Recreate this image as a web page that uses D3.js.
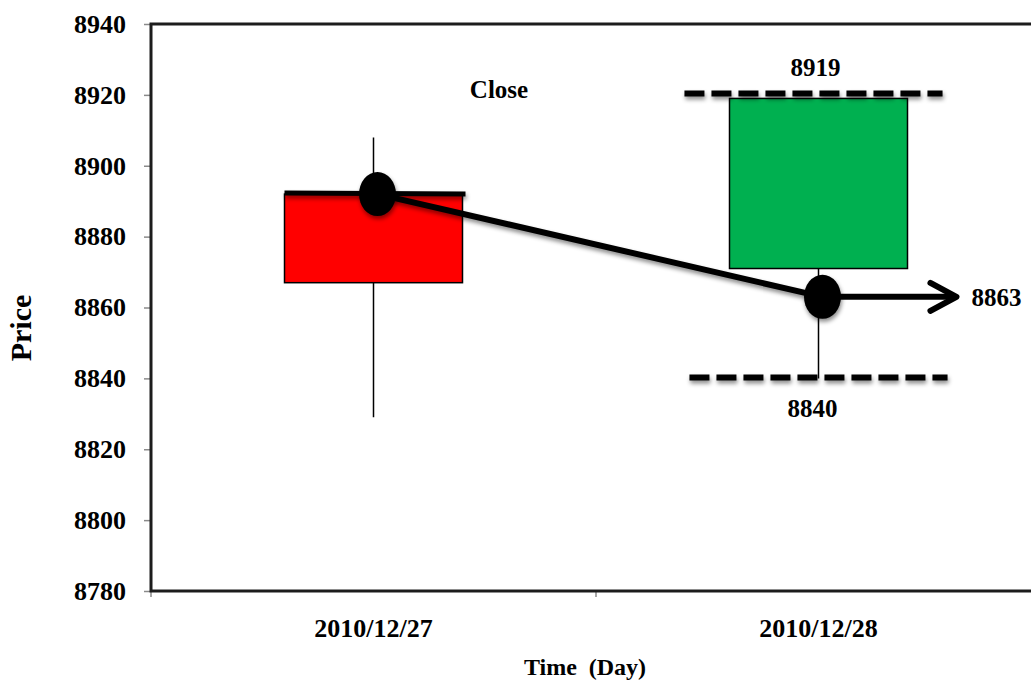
<!DOCTYPE html>
<html>
<head>
<meta charset="utf-8">
<script src="https://cdn.jsdelivr.net/npm/d3@7"></script>
<style>
  html, body { margin: 0; padding: 0; background: #fff; }
  svg { display: block; }
  text { font-family: "Liberation Serif", "Times New Roman", serif; font-weight: bold; fill: #000; }
</style>
</head>
<body>
<svg id="chart" width="1031" height="684"></svg>
<script>
// Two daily candles and the close-to-close move between them
const categories = ["2010/12/27", "2010/12/28"];
const openVals  = [8892, 8871];
const closeVals = [8867, 8919];
const highVals  = [8908, 8919];
const lowVals   = [8829, 8840];
const closeMarks = [8892, 8863];          // "Close" points joined by the line
const rangeHigh = 8919;                   // dashed upper level on day 2
const rangeLow  = 8840;                   // dashed lower level on day 2
const yTicks = [8780, 8800, 8820, 8840, 8860, 8880, 8900, 8920, 8940];

const W = 1031, H = 684;
const plot = { left: 151, top: 24, bottom: 591, right: 1041 };
const FONT = 26;
const SERIF = '"Liberation Serif", "Times New Roman", serif';

const svg = d3.select("#chart");

// soft drop shadow, in user space so thin horizontal lines keep it
const defs = svg.append("defs");
const shadow = defs.append("filter").attr("id", "shade")
  .attr("filterUnits", "userSpaceOnUse")
  .attr("x", 0).attr("y", 0).attr("width", W).attr("height", H);
shadow.append("feDropShadow")
  .attr("dx", 1).attr("dy", 3).attr("stdDeviation", 2)
  .attr("flood-color", "#000").attr("flood-opacity", 0.45);

const x = d3.scaleBand().domain(categories).range([plot.left, plot.right]).padding(0);
const y = d3.scaleLinear().domain([8780, 8940]).range([plot.bottom, plot.top]);
const bw = x.bandwidth();
const cx = c => x(c) + bw / 2;

// y axis ticks and labels
const yAxis = svg.append("g")
  .attr("transform", `translate(${plot.left},0)`)
  .call(d3.axisLeft(y).tickValues(yTicks).tickSize(7).tickPadding(18).tickFormat(d3.format("d")))
  .attr("font-family", SERIF).attr("font-size", FONT);
yAxis.select(".domain").remove();
yAxis.selectAll(".tick line").attr("stroke", "#8a8a8a").attr("stroke-width", 1.5);
yAxis.selectAll(".tick text").attr("fill", "#000");

// x axis labels, ticks at band edges
const xAxis = svg.append("g")
  .attr("transform", `translate(0,${plot.bottom})`)
  .call(d3.axisBottom(x).tickSize(0).tickPadding(28))
  .attr("font-family", SERIF).attr("font-size", FONT);
xAxis.select(".domain").remove();
xAxis.selectAll(".tick text").attr("fill", "#000");
const edges = [x(categories[0]), x(categories[1]), x(categories[1]) + bw];
svg.append("g").selectAll("line").data(edges).join("line")
  .attr("x1", d => d).attr("x2", d => d)
  .attr("y1", plot.bottom).attr("y2", plot.bottom + 6)
  .attr("stroke", "#8a8a8a").attr("stroke-width", 1.5);

// frame: top, left and bottom borders
svg.append("path")
  .attr("d", `M${W + 10},${plot.top}H${plot.left}V${plot.bottom}H${W + 10}`)
  .attr("fill", "none").attr("stroke", "#1c1c1c").attr("stroke-width", 3);

// axis titles
svg.append("text")
  .attr("transform", `translate(31,328) rotate(-90)`)
  .attr("text-anchor", "middle").attr("font-size", 30).text("Price");
svg.append("text")
  .attr("x", 585).attr("y", 675).attr("text-anchor", "middle")
  .attr("font-size", 24).style("white-space", "pre").text("Time  (Day)");

// candles
const boxW = bw * 0.4;
const candles = categories.map((c, i) => ({
  c, open: openVals[i], close: closeVals[i], high: highVals[i], low: lowVals[i]
}));

svg.append("g").selectAll("line").data(candles).join("line")
  .attr("x1", d => cx(d.c)).attr("x2", d => cx(d.c))
  .attr("y1", d => y(d.high)).attr("y2", d => y(d.low))
  .attr("stroke", "#000").attr("stroke-width", 1.5);

svg.append("g").selectAll("rect").data(candles).join("rect")
  .attr("x", d => cx(d.c) - boxW / 2)
  .attr("y", d => y(Math.max(d.open, d.close)))
  .attr("width", boxW)
  .attr("height", d => Math.abs(y(d.open) - y(d.close)))
  .attr("fill", d => d.close < d.open ? "#ff0000" : "#00b050")
  .attr("stroke", "#000").attr("stroke-width", 1.5);

// opening bar across the first candle
svg.append("line")
  .attr("x1", cx(categories[0]) - boxW / 2).attr("x2", cx(categories[0]) + boxW / 2 + 3)
  .attr("y1", y(openVals[0]) - 1).attr("y2", y(openVals[0]))
  .attr("stroke", "#000").attr("stroke-width", 5).attr("filter", "url(#shade)");

// dashed range levels on day 2
const dashHalf = bw * 0.29;
const levels = [rangeHigh, rangeLow];
svg.append("g").selectAll("line").data(levels).join("line")
  .attr("x1", (d, i) => cx(categories[1]) - dashHalf - (i === 0 ? 5 : 0))
  .attr("x2", (d, i) => cx(categories[1]) + dashHalf - (i === 0 ? 5 : 0))
  .attr("y1", (d, i) => y(d) - (i === 0 ? 5 : 1))
  .attr("y2", (d, i) => y(d) - (i === 0 ? 5 : 1))
  .attr("stroke", "#000").attr("stroke-width", 6)
  .attr("stroke-dasharray", "20,7").attr("filter", "url(#shade)");

svg.append("text").attr("x", cx(categories[1]) - 3).attr("y", 76)
  .attr("text-anchor", "middle").attr("font-size", 25).text(String(rangeHigh));
svg.append("text").attr("x", cx(categories[1]) - 6).attr("y", 417)
  .attr("text-anchor", "middle").attr("font-size", 25).text(String(rangeLow));

// close line with markers
const dotDx = 4;
const pts = categories.map((c, i) => [cx(c) + dotDx, y(closeMarks[i])]);
svg.append("path")
  .attr("d", d3.line()(pts))
  .attr("fill", "none").attr("stroke", "#000").attr("stroke-width", 6)
  .attr("filter", "url(#shade)");

// arrow continuing from the last close
const p2 = pts[1];
const tipX = cx(categories[1]) + bw * 0.31;
svg.append("line")
  .attr("x1", p2[0]).attr("x2", tipX - 3).attr("y1", p2[1]).attr("y2", p2[1])
  .attr("stroke", "#000").attr("stroke-width", 6);
svg.append("path")
  .attr("d", `M${tipX - 26},${p2[1] - 14}L${tipX},${p2[1]}L${tipX - 26},${p2[1] + 14}`)
  .attr("fill", "none").attr("stroke", "#000").attr("stroke-width", 6)
  .attr("stroke-linecap", "round").attr("stroke-linejoin", "round");
svg.append("text").attr("x", tipX + 15).attr("y", p2[1] + 9)
  .attr("font-size", 25).text(String(closeMarks[1]));

svg.append("g").selectAll("ellipse").data(pts).join("ellipse")
  .attr("cx", d => d[0]).attr("cy", d => d[1])
  .attr("rx", 18.5).attr("ry", 22).attr("fill", "#000")
  .attr("filter", "url(#shade)");

svg.append("text").attr("x", 499).attr("y", 98)
  .attr("text-anchor", "middle").attr("font-size", 25).text("Close");
</script>
</body>
</html>
